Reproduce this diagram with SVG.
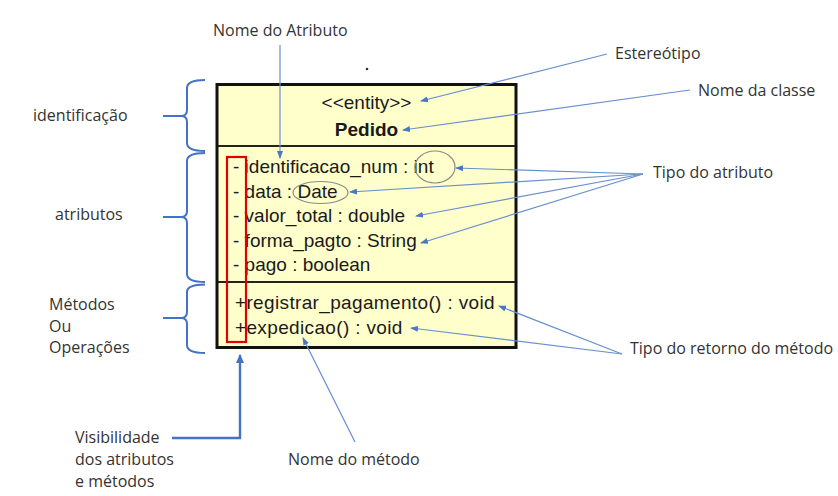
<svg xmlns="http://www.w3.org/2000/svg" width="838" height="496" viewBox="0 0 838 496">
<style>
.lbl{font-family:"Open Sans","Noto Sans",sans-serif;font-size:16px;fill:#333}
.uml{font-family:"Liberation Sans",Arial,sans-serif;font-size:19px;fill:#1a1a1a}
.thin{stroke:#6a8fcf;stroke-width:1.2;fill:none;marker-end:url(#ah)}
.brace{stroke:#4472c4;stroke-width:2;fill:none}
.oval{fill:none;stroke:#8a8a8a;stroke-width:1.2}
</style>
<defs>
<marker id="ah" markerUnits="userSpaceOnUse" markerWidth="8" markerHeight="6" refX="7" refY="3" orient="auto">
<path d="M0,0 L8,3 L0,6 Z" fill="#4a78c4"/>
</marker>
<marker id="ahb" markerUnits="userSpaceOnUse" markerWidth="9" markerHeight="8" refX="8" refY="4" orient="auto">
<path d="M0,0 L9,4 L0,8 Z" fill="#4472c4"/>
</marker>
</defs>
<rect width="838" height="496" fill="#ffffff"/>
<g id="class-pedido">
<rect x="217" y="84.5" width="299" height="263" fill="#ffffcc" stroke="#111" stroke-width="3"/>
<line x1="218" y1="146" x2="515" y2="146" stroke="#222" stroke-width="2"/>
<line x1="218" y1="282" x2="515" y2="282" stroke="#222" stroke-width="2"/>
<text class="uml" x="366.5" y="109" text-anchor="middle">&lt;&lt;entity&gt;&gt;</text>
<text class="uml" x="366.5" y="136" text-anchor="middle" font-weight="bold">Pedido</text>
<text class="uml" x="233" y="173">- identificacao_num : int</text>
<text class="uml" x="233" y="198">- data : Date</text>
<text class="uml" x="233" y="222">- valor_total : double</text>
<text class="uml" x="233" y="247">- forma_pagto : String</text>
<text class="uml" x="233" y="271">- pago : boolean</text>
<text class="uml" x="235" y="309" letter-spacing="0.35">+registrar_pagamento() : void</text>
<text class="uml" x="235" y="334" letter-spacing="0.35">+expedicao() : void</text>
<ellipse class="oval" cx="435" cy="167" rx="20" ry="16"/>
<ellipse class="oval" cx="320.5" cy="192.5" rx="27.5" ry="11"/>
<rect x="227" y="157" width="19" height="185" fill="none" stroke="#e00000" stroke-width="2.2"/>
</g>
<circle cx="367" cy="69" r="1.3" fill="#333"/>
<g id="labels">
<text class="lbl" x="213" y="36">Nome do Atributo</text>
<text class="lbl" x="615" y="59">Estereótipo</text>
<text class="lbl" x="698" y="96">Nome da classe</text>
<text class="lbl" x="653" y="178">Tipo do atributo</text>
<text class="lbl" x="630" y="354">Tipo do retorno do método</text>
<text class="lbl" x="288" y="465">Nome do método</text>
<text class="lbl" x="33" y="121">identificação</text>
<text class="lbl" x="55" y="220">atributos</text>
<text class="lbl" x="49" y="310">Métodos</text>
<text class="lbl" x="49" y="331.5">Ou</text>
<text class="lbl" x="49" y="353">Operações</text>
<text class="lbl" x="75" y="443">Visibilidade</text>
<text class="lbl" x="75" y="465">dos atributos</text>
<text class="lbl" x="75" y="487">e métodos</text>
</g>
<g id="braces">
<path class="brace" d="M205,80 Q187,80 187,88 L187,110 Q187,116 181,116 L163,116 M181,116 Q187,116 187,122 L187,143 Q187,151 205,151"/>
<path class="brace" d="M205,153 Q187,153 187,161 L187,211 Q187,217 181,217 L163,217 M181,217 Q187,217 187,223 L187,274 Q187,282 205,282"/>
<path class="brace" d="M205,284.5 Q187,284.5 187,292 L187,312 Q187,318 181,318 L163,318 M181,318 Q187,318 187,324 L187,345 Q187,353 205,353"/>
</g>
<g id="connectors">
<path class="thin" d="M280,45 L280,158"/>
<path class="thin" d="M607,54 L421,101"/>
<path class="thin" d="M690,90 L403,130"/>
<path class="thin" d="M643,174 L456,168"/>
<path class="thin" d="M643,174 L350,192"/>
<path class="thin" d="M643,174 L416,216"/>
<path class="thin" d="M643,174 L421,243"/>
<path class="thin" d="M622,354 L499,306"/>
<path class="thin" d="M622,354 L411,328"/>
<path class="thin" d="M355,442 L303,338"/>
<path d="M172,438 L240,438 L240,355" fill="none" stroke="#4472c4" stroke-width="2.4" marker-end="url(#ahb)"/>
</g>
</svg>
